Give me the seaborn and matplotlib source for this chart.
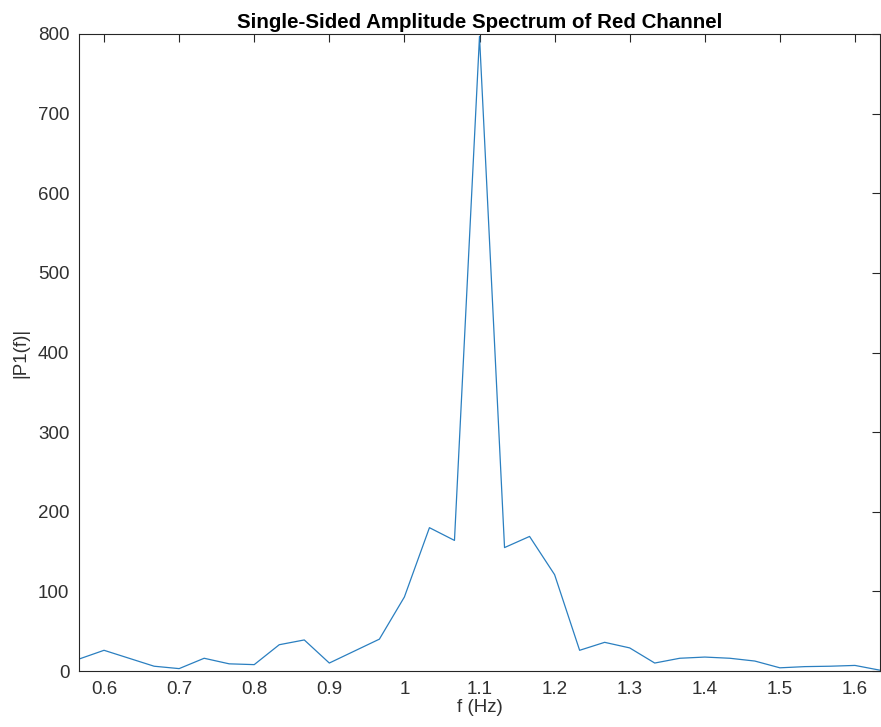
import numpy as np
import pandas as pd
import matplotlib
matplotlib.use("Agg")
import matplotlib.pyplot as plt
import seaborn as sns

# frequency bins (k/30 Hz)
freq_bins = list(range(17, 50))
amplitude = [15, 26, 16, 6, 3, 16, 9, 8, 33, 39,
             10, 25, 40, 93, 180, 164, 797, 155, 169, 121,
             26, 36, 29, 10, 16, 17.5, 16, 12.5, 4, 5.5,
             6, 7, 1]
xticks = [0.6, 0.7, 0.8, 0.9, 1.0, 1.1, 1.2, 1.3, 1.4, 1.5, 1.6]
xticklabels = ["0.6", "0.7", "0.8", "0.9", "1", "1.1", "1.2", "1.3", "1.4", "1.5", "1.6"]
yticks = [0, 100, 200, 300, 400, 500, 600, 700, 800]

df = pd.DataFrame({"f": [k / 30 for k in freq_bins], "P1": amplitude})

sns.set_style("white")
plt.rcParams["font.family"] = ["Liberation Sans", "DejaVu Sans"]

fig = plt.figure(figsize=(8.81, 7.27), dpi=100)
ax = fig.add_axes([79 / 881, 1 - 671 / 727, (880 - 79) / 881, (671 - 34) / 727])

sns.lineplot(data=df, x="f", y="P1", ax=ax, color="#2a7fc0", linewidth=0.9)

ax.set_xlim(17 / 30, 49 / 30)
ax.set_ylim(0, 800)
ax.set_xticks(xticks)
ax.set_xticklabels(xticklabels)
ax.set_yticks(yticks)
ax.tick_params(direction="in", length=6, width=0.8, color="#262626",
               labelsize=13.5, labelcolor="#303030", top=True, right=True,
               pad=7)
for s in ax.spines.values():
    s.set_color("#262626")
    s.set_linewidth(0.8)

ax.set_xlabel("f (Hz)", fontsize=13.5, color="#303030", labelpad=1)
ax.set_ylabel("|P1(f)|", fontsize=13.5, color="#303030", labelpad=6)
ax.set_title("Single-Sided Amplitude Spectrum of Red Channel",
             fontsize=14.8, fontweight="bold", color="black", pad=4)

fig.savefig("out.png", dpi=100)
